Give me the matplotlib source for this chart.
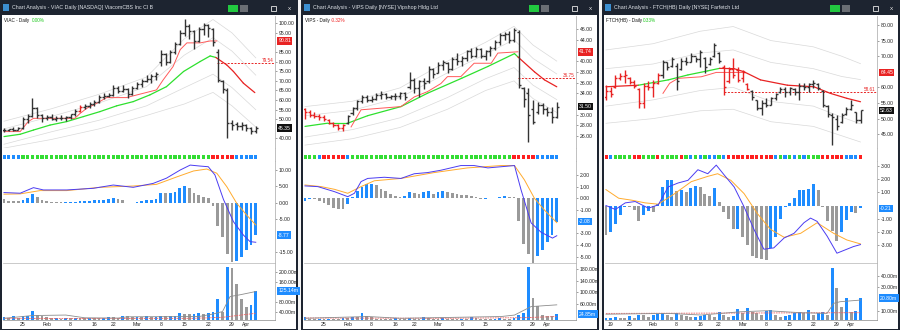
import numpy as np
import matplotlib
matplotlib.use('Agg')
import matplotlib.pyplot as plt
from matplotlib.patches import Rectangle
from matplotlib.transforms import blended_transform_factory

plt.rcParams['font.family'] = ['Liberation Sans', 'DejaVu Sans']

# ---------------- data ----------------
date_ticks = [4, 9, 14, 19, 23, 28, 33, 38, 43, 48, 51]
date_labels = ['25', 'Feb', '8', '16', '22', 'Mar', '8', '15', '22', '29', 'Apr']
ftch_date_ticks = [1, 5, 10, 15, 20, 24, 29, 34, 39, 44, 49, 52]
ftch_date_labels = ['19', '25', 'Feb', '8', '16', '22', 'Mar', '8', '15', '22', '29', 'Apr']

# VIAC
viac_open = [44.5, 44.2, 44.8, 44.5, 45.6, 50.0, 51.5, 56.0, 52.0, 50.5,
             51.0, 50.0, 50.8, 50.5, 51.0, 52.5, 54.5, 56.5, 57.0, 58.0,
             59.0, 61.5, 62.0, 62.5, 66.5, 64.5, 66.0, 63.0, 66.5, 68.5,
             70.0, 71.0, 72.5, 80.0, 84.0, 80.0, 85.0, 89.0, 95.0, 98.5,
             96.0, 91.0, 97.0, 99.0, 97.0, 85.0, 70.0, 65.5, 48.0, 47.5,
             46.5, 47.0, 45.5, 44.0]
viac_high = [45.6, 45.2, 45.8, 46.0, 51.0, 52.5, 61.3, 56.5, 53.0, 52.0,
             52.5, 51.5, 52.0, 51.8, 53.0, 55.6, 57.5, 58.0, 59.0, 60.0,
             62.5, 63.5, 63.5, 68.0, 67.5, 68.0, 66.5, 67.5, 69.5, 71.0,
             73.0, 73.5, 74.5, 86.0, 84.5, 86.0, 90.0, 96.5, 102.0, 99.5,
             96.5, 98.0, 100.3, 99.5, 97.5, 86.5, 70.5, 66.5, 49.5, 48.5,
             48.5, 47.5, 46.0, 46.5]
viac_low = [43.6, 43.8, 44.0, 44.2, 45.0, 48.0, 51.0, 50.5, 48.5, 49.5,
            49.5, 49.0, 49.5, 49.0, 50.0, 51.5, 54.0, 55.5, 56.0, 57.0,
            58.5, 60.5, 61.5, 62.0, 63.5, 64.0, 61.0, 62.5, 66.0, 67.0,
            69.5, 69.0, 70.5, 77.5, 78.5, 79.5, 84.0, 88.5, 93.5, 92.0,
            86.5, 90.5, 94.0, 93.0, 88.0, 69.5, 63.5, 40.0, 44.5, 44.5,
            44.5, 44.0, 42.6, 43.0]
viac_close = [44.2, 44.8, 44.5, 45.6, 50.0, 51.5, 56.0, 52.0, 50.5, 51.0,
              50.0, 50.8, 50.5, 51.0, 52.5, 54.5, 56.5, 57.0, 58.0, 59.0,
              61.5, 62.0, 62.5, 66.5, 64.5, 66.0, 63.0, 66.5, 68.5, 70.0,
              71.0, 72.5, 73.5, 84.0, 80.0, 85.0, 89.0, 95.0, 98.5, 96.0,
              91.0, 97.0, 99.0, 97.5, 90.0, 70.5, 66.0, 48.0, 47.0, 46.5,
              47.0, 45.5, 44.0, 45.35]
viac_red_bars = [16]
viac_impulse = 'b' * 4 + 'g' * 40 + 'r' * 5 + 'b' * 5
viac_ema_x = [0, 3.4, 6.2, 9.7, 13.2, 16.7, 20.2, 23.7, 27.2, 30.7, 34.2, 37.8, 41.3, 43.4, 44.6,
              46.9, 48.3, 50.4, 52.8]
viac_ema_y = [41.0, 42.2, 44.4, 47.0, 48.8, 51.4, 54.0, 57.0, 59.2, 62.7, 67.0, 74.9, 80.1, 83.0, 82.2,
              78.3, 74.9, 68.8, 63.9]
viac_ema_green = [(0, 44.6)]
viac_stop_x = [0, 3.4, 5.1, 6.2, 14.9, 16.0, 17.4, 19.5, 21.6, 25.8, 27.2, 32.1, 33.5, 35.6, 37.1,
               38.5, 41.3, 43.4, 44.8]
viac_stop_y = [43.6, 43.6, 48.8, 50.5, 50.5, 53.0, 55.7, 58.3, 61.3, 61.3, 62.2, 65.3, 70.5, 77.5,
               86.3, 89.8, 89.8, 90.8, 90.8]
viac_band_x = [0, 10, 20, 30, 38, 44, 48, 53]
viac_band_u2 = [49, 55.5, 63, 72, 92, 102, 95, 82]
viac_band_u1 = [45, 51.5, 58.5, 67, 83.5, 92.5, 85.5, 73]
viac_band_l1 = [37, 43.5, 49.5, 57, 66.5, 73.5, 66.5, 55]
viac_band_l2 = [35, 39.5, 45, 52, 58, 64, 57, 46]
viac_hist = [1.0, 0.6, 0.5, 0.5, 0.8, 1.3, 2.6, 1.6, 0.8, 0.6,
             0.2, 0.1, 0.1, 0.15, 0.2, 0.3, 0.4, 0.5, 0.6, 0.7,
             0.8, 0.9, 1.0, 1.3, 1.0, 0.8, -0.1, 0.05, 0.3, 0.5,
             0.7, 0.9, 1.0, 3.0, 2.9, 3.1, 3.4, 4.6, 5.1, 4.6,
             3.0, 2.3, 1.8, 1.3, -1.0, -7.1, -10.6, -15.8, -18.2, -17.9,
             -16.5, -14.5, -12.8, -9.9]
viac_macd_x = [0, 3.4, 6.2, 8.3, 13.2, 18.8, 23.0, 27.2, 31.4, 34.2, 37.1, 39.2, 41.3, 43.0, 44.4,
               46.2, 48.3, 50.4, 51.8, 53]
viac_macd_y = [3.1, 2.9, 4.6, 3.9, 3.9, 4.4, 5.4, 4.7, 5.9, 7.5, 10.0, 11.5, 11.2, 11.0, 8.5,
               1.0, -5.8, -9.9, -11.9, -12.1]
viac_sig_x = [0, 3.4, 7.6, 13.2, 20.2, 27.2, 32.1, 36.4, 39.9, 42.7, 44.8, 46.9, 49.0, 51.1, 53]
viac_sig_y = [2.6, 2.7, 3.7, 3.7, 4.7, 5.1, 5.6, 7.9, 9.7, 10.3, 9.0, 4.9, -0.2, -3.8, -6.8]
viac_vol = [20, 16, 27, 16, 24, 27, 45, 31, 27, 22,
            16, 18, 15, 17, 16, 18, 17, 16, 18, 17,
            16, 18, 23, 20, 18, 27, 24, 20, 22, 21,
            24, 22, 23, 27, 25, 26, 27, 39, 33, 32,
            33, 36, 34, 36, 40, 92, 43, 220, 216, 153,
            93, 63, 69, 125.14]
viac_vma_x = [0, 6, 13, 17, 24, 26, 41, 44, 46, 47.6, 49.7, 53]
viac_vma_y = [16, 27, 29, 18, 17, 22, 23, 33, 43, 103, 110, 123]
viac_vma2_x = [0, 20, 40, 46, 53]
viac_vma2_y = [16, 15, 16, 20, 36]

# VIPS
vips_open = [31.0, 30.5, 30.0, 29.8, 29.5, 29.0, 28.5, 28.0, 27.5, 28.5,
             30.3, 31.2, 32.5, 33.2, 32.8, 33.0, 33.6, 33.8, 33.3, 33.4,
             33.5, 34.0, 35.2, 36.5, 35.0, 36.2, 36.2, 38.5, 37.8, 39.2,
             39.6, 38.5, 40.4, 40.0, 40.6, 41.8, 41.0, 42.3, 41.0, 41.8,
             42.4, 43.6, 44.8, 45.0, 44.0, 45.5, 35.0, 34.0, 31.0, 30.5,
             31.8, 31.0, 30.5, 29.6]
vips_high = [31.2, 30.8, 30.4, 30.2, 30.0, 29.2, 28.7, 28.2, 28.3, 30.0,
             31.5, 32.8, 33.6, 33.6, 33.5, 34.0, 34.4, 34.0, 33.7, 34.0,
             34.3, 34.2, 38.0, 36.9, 36.5, 36.8, 39.0, 38.8, 39.8, 40.3,
             39.8, 40.8, 41.5, 41.0, 42.1, 42.4, 42.7, 42.5, 42.1, 42.8,
             43.9, 45.2, 45.5, 45.6, 46.1, 45.8, 35.2, 35.0, 32.7, 32.4,
             32.1, 31.5, 31.5, 32.4]
vips_low = [29.2, 29.6, 29.4, 29.0, 28.8, 28.2, 27.7, 27.1, 27.0, 28.3,
            30.0, 30.8, 32.2, 32.4, 32.4, 32.7, 33.0, 33.0, 32.9, 32.8,
            33.0, 32.8, 34.8, 34.0, 33.2, 34.8, 36.0, 36.8, 37.7, 38.3,
            37.7, 38.3, 39.2, 39.0, 40.0, 40.5, 40.8, 40.5, 40.2, 41.0,
            42.1, 43.0, 43.9, 43.3, 43.5, 34.9, 31.5, 24.9, 28.2, 30.2,
            30.2, 29.8, 28.4, 29.3]
vips_close = [30.5, 30.0, 29.8, 29.5, 29.2, 28.5, 28.0, 27.5, 28.0, 29.8,
              31.2, 32.5, 33.2, 32.8, 33.0, 33.6, 33.8, 33.3, 33.4, 33.5,
              34.0, 33.3, 36.5, 35.0, 36.2, 36.0, 38.5, 37.5, 39.2, 39.8,
              38.5, 40.4, 40.0, 40.6, 41.8, 41.0, 42.3, 41.0, 41.8, 42.4,
              43.6, 44.8, 45.0, 44.0, 45.8, 35.6, 33.0, 30.0, 28.6, 31.8,
              31.0, 30.5, 29.5, 31.5]
vips_red_bars = list(range(0, 9))
vips_impulse = 'ggg' + 'b' + 'r' * 5 + 'b' + 'g' * 34 + 'r' * 5 + 'b' * 5
vips_ema_x = [0, 4.8, 9.0, 13.2, 20.2, 25.8, 33.0, 38.5, 44.1, 44.8, 48.3, 50.4, 53]
vips_ema_y = [27.8, 28.4, 28.4, 29.8, 31.5, 34.0, 36.8, 39.0, 41.4, 40.8, 38.0, 36.5, 35.2]
vips_ema_green = [(0, 44.5)]
vips_stop_x = [9.7, 11.8, 20.2, 23.0, 25.8, 28.6, 30.0, 32.8, 35.6, 39.2, 40.6, 44.8]
vips_stop_y = [27.7, 30.9, 31.5, 33.3, 34.3, 35.8, 37.1, 37.1, 39.6, 39.6, 41.5, 41.74]
vips_band_x = [0, 10, 20, 30, 38, 44, 48, 53]
vips_band_u2 = [31.5, 32.5, 35, 40, 43.5, 46.5, 43, 40]
vips_band_u1 = [29.8, 30.8, 33.2, 37.8, 41.3, 44, 40.5, 37.6]
vips_band_l1 = [25.8, 27.2, 29.4, 33.2, 36.7, 38.8, 35.5, 32.8]
vips_band_l2 = [24.3, 25.5, 27.6, 31, 34.5, 36.3, 33, 30.4]
vips_hist = [-0.2, -0.1, -0.1, -0.2, -0.4, -0.6, -0.8, -0.9, -0.95, -0.5,
             0.1, 0.6, 1.0, 1.2, 1.25, 1.1, 0.8, 0.6, 0.4, 0.2,
             0.15, 0.2, 0.5, 0.45, 0.4, 0.5, 0.6, 0.4, 0.5, 0.6,
             0.5, 0.45, 0.4, 0.3, 0.25, 0.2, 0.1, -0.05, -0.03, 0.0,
             0.05, 0.1, 0.2, 0.15, 0.1, -1.9, -3.9, -4.8, -5.5, -4.9,
             -4.4, -3.7, -3.1, -2.0]
vips_macd_x = [0, 2.7, 6.2, 9.0, 10.4, 11.8, 13.2, 16.7, 20.2, 23.0, 25.8, 28.6, 32.8, 35.6, 38.5,
               41.3, 44.1, 45.5, 47.6, 49.7, 52.1, 53]
vips_macd_y = [1.06, 1.0, 0.57, 0.14, 0.43, 1.43, 1.7, 1.8, 1.7, 2.1, 2.2, 2.4, 2.8, 2.8, 2.6,
               2.7, 2.8, 0.7, -2.1, -2.9, -3.4, -3.2]
vips_sig_x = [0, 3.4, 6.2, 9.0, 11.8, 14.6, 20.2, 27.2, 34.2, 41.3, 44.1, 46.2, 48.3, 50.4, 53]
vips_sig_y = [1.14, 1.0, 0.77, 0.43, 1.0, 1.5, 1.7, 2.2, 2.6, 2.8, 2.8, 1.57, 0.0, -1.0, -2.08]
vips_vol = [14, 9, 8, 9, 8, 10, 9, 8, 12, 11,
            16, 14, 30, 20, 14, 10, 9, 8, 7, 11,
            9, 8, 12, 10, 9, 16, 12, 10, 9, 12,
            10, 9, 8, 10, 9, 16, 12, 10, 9, 8,
            9, 11, 10, 9, 12, 22, 28, 185, 82, 53,
            22, 20, 19, 24.85]
vips_vma_x = [0, 13.2, 20.2, 41.3, 44.1, 47.6, 53]
vips_vma_y = [11, 17, 11, 17, 22, 51, 57]
vips_vma2_x = [0, 30, 46, 53]
vips_vma2_y = [12, 11, 13, 17]

# FTCH
ftch_open = [57.0, 59.0, 60.0, 63.0, 63.5, 63.0, 61.8, 59.5, 55.0, 60.5,
             60.0, 61.5, 64.0, 68.0, 66.8, 67.0, 66.0, 68.5, 68.2, 70.0,
             69.0, 69.5, 67.5, 70.0, 71.0, 66.5, 62.0, 66.0, 65.5, 63.0,
             61.0, 59.0, 56.0, 53.5, 55.0, 54.5, 56.5, 58.5, 59.5, 58.5,
             59.5, 58.5, 60.5, 60.0, 61.0, 61.0, 59.0, 54.0, 51.0, 50.0,
             49.0, 51.5, 53.0, 52.0, 49.5]
ftch_high = [60.8, 60.0, 64.0, 64.5, 65.6, 63.4, 62.4, 59.7, 61.3, 62.0,
             62.4, 64.5, 68.8, 68.2, 69.8, 67.7, 69.3, 69.8, 70.9, 69.8,
             72.0, 69.8, 69.8, 74.1, 71.5, 67.2, 66.6, 69.3, 66.6, 65.6,
             61.3, 59.2, 56.0, 56.0, 56.5, 57.0, 58.1, 60.2, 60.2, 60.2,
             59.7, 61.3, 61.3, 61.3, 62.4, 61.3, 59.2, 54.4, 51.7, 51.2,
             51.7, 53.8, 56.0, 52.2, 52.9]
ftch_low = [56.0, 57.0, 59.7, 62.4, 61.3, 61.0, 59.7, 53.3, 53.3, 59.2,
            57.0, 61.0, 63.0, 65.6, 66.6, 59.2, 65.6, 67.2, 68.2, 68.2,
            66.6, 64.5, 67.2, 69.8, 67.7, 57.6, 61.3, 62.9, 61.8, 61.8,
            59.2, 56.0, 52.8, 51.2, 53.8, 54.4, 56.0, 58.1, 57.0, 57.6,
            57.6, 56.0, 59.2, 58.6, 59.7, 59.2, 53.8, 50.6, 41.6, 46.3,
            48.5, 51.2, 52.8, 48.5, 48.5]
ftch_close = [59.0, 58.0, 63.0, 63.5, 64.0, 61.8, 60.5, 55.0, 60.5, 60.0,
              61.5, 64.0, 68.0, 66.5, 69.0, 62.0, 68.5, 68.0, 70.0, 69.0,
              71.5, 66.5, 69.0, 73.5, 68.5, 60.0, 66.0, 64.0, 62.5, 64.8,
              59.5, 57.0, 53.5, 55.0, 54.5, 56.5, 57.8, 59.5, 58.5, 59.8,
              58.5, 60.5, 60.0, 61.0, 61.5, 59.8, 54.5, 51.5, 50.5, 47.5,
              51.0, 53.0, 54.5, 49.5, 52.63]
ftch_red_bars = list(range(0, 12)) + list(range(25, 31))
ftch_impulse = 'rbggggrrgggrggggrgbgbgbbgbrrrrrrrrrrbgbgbgbgggrrrrrbbbr'
ftch_ema_x = [0, 6.9, 13.2, 17.4, 21.6, 24.1, 27.2, 29.3, 32.8, 38.5, 44.1, 47.6, 51.1, 54]
ftch_ema_y = [60.2, 60.7, 62.4, 64.0, 65.3, 66.1, 66.0, 65.0, 62.4, 60.7, 60.2, 58.1, 56.5, 55.4]
ftch_ema_green = [(6.9, 24.1)]
ftch_stop_x = [12.1, 13.5, 15.3, 20.2, 21.6, 23.4, 29.3]
ftch_stop_y = [58.1, 61.3, 62.9, 63.4, 64.0, 64.8, 64.8]
ftch_band_x = [0, 10, 20, 27, 35, 44, 50, 54]
ftch_band_u2 = [72, 74, 78, 79.5, 75, 73, 70, 67.6]
ftch_band_u1 = [66, 67.5, 71, 72, 68, 66, 63.5, 62.5]
ftch_band_l1 = [54, 56, 59, 60, 55.5, 54, 50.5, 48.3]
ftch_band_l2 = [48.5, 50, 52.5, 53, 49, 47.5, 44.5, 42.5]
ftch_hist = [-2.2, -2.0, -1.4, -0.7, -0.1, -0.15, -0.35, -1.2, -0.7, -0.4,
             -0.5, 0.1, 1.4, 1.9, 1.95, 1.1, 1.2, 1.0, 1.3, 1.5,
             1.4, 0.9, 0.7, 1.3, 0.3, -0.5, -1.0, -1.8, -1.75, -2.4,
             -3.0, -3.8, -4.0, -4.05, -4.1, -3.2, -2.4, -1.0, -0.1, 0.2,
             0.6, 1.15, 1.2, 1.25, 1.6, 1.2, -0.1, -1.2, -1.9, -2.7,
             -2.0, -1.1, -0.5, -0.6, -0.21]
ftch_macd_x = [0, 2.0, 4.1, 6.2, 9.0, 11.1, 13.2, 15.3, 17.4, 19.5, 21.6, 23.4, 25.1, 27.2, 29.3,
               31.4, 33.5, 35.6, 37.8, 39.9, 42.0, 43.4, 44.8, 46.9, 49.0, 51.1, 52.5, 54]
ftch_macd_y = [0.0, -0.3, 0.2, 0.3, -0.2, 0.05, 1.4, 1.7, 1.9, 2.7, 2.4, 3.05, 2.3, 1.4, -0.1,
               -1.8, -3.3, -3.2, -2.45, -2.1, -1.3, -0.95, -1.2, -2.3, -3.6, -3.3, -3.1, -2.95]
ftch_sig_x = [0, 2.7, 5.5, 8.3, 11.1, 14.6, 18.1, 21.6, 23.7, 26.5, 29.3, 32.1, 34.9, 37.8, 41.3,
              44.8, 48.3, 51.1, 54]
ftch_sig_y = [1.2, 0.55, 0.4, 0.2, 0.1, 0.9, 1.8, 2.2, 2.4, 1.9, 0.9, -0.6, -1.8, -2.4, -2.1,
              -1.3, -2.1, -2.6, -2.9]
ftch_vol = [3.4, 3.5, 5.0, 4.0, 4.0, 5.4, 4.0, 6.3, 6.3, 5.0,
            6.6, 7.1, 7.7, 6.3, 5.0, 7.7, 6.3, 5.4, 4.5, 5.0,
            5.1, 6.3, 6.3, 5.0, 8.6, 6.3, 5.0, 5.7, 11.1, 7.7,
            12.0, 8.6, 7.7, 6.3, 9.7, 10.6, 6.3, 5.0, 5.7, 6.3,
            7.7, 8.6, 7.7, 10.6, 6.3, 7.7, 8.6, 6.3, 46.3, 29.0,
            13.4, 20.6, 8.6, 10.0, 20.8]
ftch_vma_x = [0, 13.2, 20.2, 28.6, 34.2, 41.3, 46.9, 48.3, 49.7, 54]
ftch_vma_y = [7.0, 7.7, 6.3, 9.1, 10.0, 8.3, 7.7, 16.3, 17.7, 19.1]
ftch_vma2_x = [0, 54]
ftch_vma2_y = [7.7, 8.3]

# ---------------- drawing ----------------
W, H = 900, 330
fig = plt.figure(figsize=(9, 3.3), dpi=100)
fig.patch.set_facecolor('#f4f4f4')

BLUE = '#1e8cff'
GRAY = '#9a9a9a'
DARK = '#333333'
RED = '#e82323'
GREEN = '#2ee02e'
SQ = {'b': '#1e8cff', 'g': '#33dd33', 'r': '#ff2020'}


def frac(x0, y0, x1, y1):
    return [x0 / W, 1 - y1 / H, (x1 - x0) / W, (y1 - y0) / H]


def fig_rect(x0, y0, x1, y1, fc, ec='none', lw=0, z=-5):
    fig.add_artist(Rectangle((x0 / W, 1 - y1 / H), (x1 - x0) / W, (y1 - y0) / H,
                             transform=fig.transFigure, facecolor=fc, edgecolor=ec,
                             linewidth=lw, zorder=z))


def fig_txt(x, y, s, **kw):
    fig.text(x / W, 1 - y / H, s, **kw)


def up_colors(vals, first):
    cols = [first]
    for i in range(1, len(vals)):
        cols.append(BLUE if vals[i] > vals[i - 1] else GRAY)
    return cols


def style_axis(ax, xl):
    ax.set_xlim(*xl)
    ax.set_facecolor('white')
    for s in ['top', 'left']:
        ax.spines[s].set_visible(False)
    ax.spines['right'].set_color('#b5b5b5')
    ax.spines['right'].set_linewidth(0.6)
    ax.spines['bottom'].set_color('#d5d5d5')
    ax.spines['bottom'].set_linewidth(0.5)
    ax.yaxis.tick_right()
    ax.tick_params(axis='y', labelsize=3.7, length=1.5, width=0.4, pad=1.2,
                   colors='#555555', labelcolor='#222222')
    ax.tick_params(axis='x', length=0, labelbottom=False)


def value_box(ax, y, s, fc):
    tr = blended_transform_factory(ax.transAxes, ax.transData)
    ax.text(1.012, y, s, transform=tr, fontsize=3.7, color='white', va='center', ha='left',
            clip_on=False, zorder=10,
            bbox=dict(boxstyle='square,pad=0.25', fc=fc, ec='none'))


def draw_panel(ox, p):
    n = len(p['close'])
    x = np.arange(n)
    xl = p['xlim']

    # window frame
    fig_rect(ox, 0, ox + 298, 330, 'white', z=-6)
    fig_rect(ox, 0, ox + 298, 15, '#1d2430', z=-4)
    fig_rect(ox, 15, ox + 2, 330, '#1d2430', z=-4)
    fig_rect(ox + 296, 15, ox + 298, 330, '#1d2430', z=-4)
    fig_rect(ox, 328.5, ox + 298, 330, '#1d2430', z=-4)
    fig_rect(ox + 3, 4, ox + 9, 11, '#3c8fd0', z=-3)
    fig_txt(ox + 12, 7.8, p['title'], fontsize=3.8, color='#dfe3e8', va='center', ha='left')
    fig_rect(ox + 228, 5.5, ox + 238, 11.5, '#22c840', z=-3)
    fig_rect(ox + 240, 5.5, ox + 248, 11.5, '#6a6e74', z=-3)
    fig_rect(ox + 256, 9.5, ox + 261, 10.3, '#e6e6e6', z=-3)
    fig_rect(ox + 271, 5.5, ox + 276, 10.5, 'none', ec='#e6e6e6', lw=0.6, z=-3)
    fig_txt(ox + 289, 8, 'x', fontsize=4.5, color='#e6e6e6', va='center', ha='center')

    ax_p = fig.add_axes(frac(ox + 3, 16, ox + 275, 148))
    ax_s = fig.add_axes(frac(ox + 3, 148, ox + 275, 161))
    ax_m = fig.add_axes(frac(ox + 3, 161, ox + 275, 263))
    ax_v = fig.add_axes(frac(ox + 3, 263, ox + 275, 320))
    for ax in (ax_p, ax_s, ax_m, ax_v):
        style_axis(ax, xl)

    # price panel
    ax_p.set_ylim(*p['pylim'])
    for yb in (p['band_u2'], p['band_u1'], p['band_l1'], p['band_l2']):
        ax_p.plot(p['band_x'], yb, color='#d9d9d9', lw=0.5, zorder=1)
    ex, ey = np.array(p['ema_x']), np.array(p['ema_y'])
    for k in range(len(ex) - 1):
        mid = (ex[k] + ex[k + 1]) / 2
        is_green = any(a <= mid <= b for a, b in p['ema_green'])
        ax_p.plot(ex[k:k + 2], ey[k:k + 2], color=GREEN if is_green else RED, lw=0.9,
                  zorder=2, solid_capstyle='round')
    ax_p.plot(p['stop_x'], p['stop_y'], color='#ff5a5a', lw=0.7, zorder=2)
    ax_p.hlines(p['dash_y'], p['dash_x'], xl[1], colors=RED, lw=0.7, linestyles=(0, (2, 1.5)),
                zorder=2)
    ax_p.text(0.995, p['dash_y'], p['dash_lbl'], transform=blended_transform_factory(ax_p.transAxes, ax_p.transData),
              fontsize=3.3, color=RED, ha='right', va='bottom')
    cols = [RED if i in p['red_bars'] else DARK for i in range(n)]
    ax_p.vlines(x, p['low'], p['high'], colors=cols, lw=1.0, zorder=3)
    ax_p.hlines(p['open'], x - 0.45, x, colors=cols, lw=1.0, zorder=3)
    ax_p.hlines(p['close'], x, x + 0.45, colors=cols, lw=1.0, zorder=3)
    ax_p.set_yticks(p['pticks'])
    ax_p.yaxis.set_major_formatter(plt.FuncFormatter(lambda v, _: f'{v:.2f}'))
    value_box(ax_p, p['stop_y'][-1], p['stop_lbl'], RED)
    value_box(ax_p, p['close'][-1], f"{p['close'][-1]:.2f}", '#111111')
    ax_p.text(0.004, 0.985, p['sym'] + ' - Daily', transform=ax_p.transAxes, fontsize=3.3,
              color='#111111', va='top', ha='left')
    ax_p.text(p['chg_pos'], 0.985, p['chg'], transform=ax_p.transAxes, fontsize=3.3,
              color=p['chg_col'], va='top', ha='left')

    # impulse squares
    ax_s.set_ylim(0, 1)
    ax_s.set_yticks([])
    ax_s.spines['bottom'].set_visible(False)
    ax_s.scatter(x, np.full(n, 0.32), marker='s', s=6.0, linewidths=0,
                 c=[SQ[ch] for ch in p['impulse']])

    # MACD
    ax_m.set_ylim(*p['mylim'])
    ax_m.bar(x, p['hist'], width=0.62, color=up_colors(p['hist'], p['hist_first']), zorder=1)
    ax_m.plot(p['sig_x'], p['sig_y'], color='#ffab2e', lw=0.7, zorder=2)
    ax_m.plot(p['macd_x'], p['macd_y'], color='#4b3cf2', lw=0.7, zorder=3)
    ax_m.set_yticks(p['mticks'])
    ax_m.yaxis.set_major_formatter(plt.FuncFormatter(lambda v, _: f'{v:.2f}'))
    value_box(ax_m, p['hist'][-1], p['hist_lbl'], BLUE)

    # volume
    ax_v.set_ylim(*p['vylim'])
    ax_v.spines['top'].set_visible(True)
    ax_v.spines['top'].set_color('#b5b5b5')
    ax_v.spines['top'].set_linewidth(0.5)
    ax_v.spines['bottom'].set_color('#888888')
    ax_v.bar(x, p['vol'], width=0.62, color=up_colors(p['vol'], BLUE), zorder=1)
    ax_v.plot(p['vma2_x'], p['vma2_y'], color='#f06060', lw=0.6, ls=(0, (2, 1)), zorder=2)
    ax_v.plot(p['vma_x'], p['vma_y'], color='#8c8c8c', lw=0.6, zorder=3)
    ax_v.set_yticks(p['vticks'])
    ax_v.yaxis.set_major_formatter(plt.FuncFormatter(lambda v, _: f'{v:.2f}m'))
    value_box(ax_v, p['vol'][-1], f"{p['vol'][-1]:.2f}m", BLUE)
    ax_v.set_xticks(p['dticks'])
    ax_v.set_xticklabels(p['dlabels'])
    ax_v.tick_params(axis='x', labelbottom=True, labelsize=3.7, pad=1.5, length=0,
                     labelcolor='#222222')


panels = [
    dict(title='Chart Analysis - VIAC Daily [NASDAQ] ViacomCBS Inc Cl B', sym='VIAC', chg='0.00%',
         chg_col='#1ec81e', chg_pos=0.105, open=viac_open, high=viac_high, low=viac_low,
         close=viac_close, red_bars=viac_red_bars, impulse=viac_impulse,
         ema_x=viac_ema_x, ema_y=viac_ema_y, ema_green=viac_ema_green,
         stop_x=viac_stop_x, stop_y=viac_stop_y, stop_lbl='90.81',
         band_x=viac_band_x, band_u2=viac_band_u2, band_u1=viac_band_u1,
         band_l1=viac_band_l1, band_l2=viac_band_l2,
         dash_x=44.8, dash_y=79.54, dash_lbl='79.54',
         pylim=(35.05, 103.8), pticks=[40, 50, 55, 60, 65, 70, 75, 80, 85, 95, 100],
         hist=viac_hist, hist_first=GRAY, hist_lbl='-8.77', macd_x=viac_macd_x, macd_y=viac_macd_y,
         sig_x=viac_sig_x, sig_y=viac_sig_y, mylim=(-18.44, 12.75), mticks=[-15, -5, 0, 5, 10],
         vol=viac_vol, vma_x=viac_vma_x, vma_y=viac_vma_y, vma2_x=viac_vma2_x, vma2_y=viac_vma2_y,
         vylim=(9.2, 237), vticks=[40, 80, 160, 200],
         dticks=date_ticks, dlabels=date_labels, xlim=(-0.21, 57.05)),
    dict(title='Chart Analysis - VIPS Daily [NYSE] Vipshop Hldg Ltd', sym='VIPS', chg='-0.32%',
         chg_col='#ee2020', chg_pos=0.097, open=vips_open, high=vips_high, low=vips_low,
         close=vips_close, red_bars=vips_red_bars, impulse=vips_impulse,
         ema_x=vips_ema_x, ema_y=vips_ema_y, ema_green=vips_ema_green,
         stop_x=vips_stop_x, stop_y=vips_stop_y, stop_lbl='41.74',
         band_x=vips_band_x, band_u2=vips_band_u2, band_u1=vips_band_u1,
         band_l1=vips_band_l1, band_l2=vips_band_l2,
         dash_x=44.8, dash_y=36.75, dash_lbl='36.75',
         pylim=(23.76, 48.43), pticks=[26, 28, 30, 34, 36, 38, 40, 44, 46],
         hist=vips_hist, hist_first=BLUE, hist_lbl='-2.08', macd_x=vips_macd_x, macd_y=vips_macd_y,
         sig_x=vips_sig_x, sig_y=vips_sig_y, mylim=(-5.53, 3.19), mticks=[-5, -4, -3, -1, 0, 1, 2],
         vol=vips_vol, vma_x=vips_vma_x, vma_y=vips_vma_y, vma2_x=vips_vma2_x, vma2_y=vips_vma2_y,
         vylim=(5.1, 200.3), vticks=[60, 100, 140, 180],
         dticks=date_ticks, dlabels=date_labels, xlim=(-0.21, 57.05)),
    dict(title='Chart Analysis - FTCH(HB) Daily [NYSE] Farfetch Ltd', sym='FTCH(HB)', chg='0.33%',
         chg_col='#1ec81e', chg_pos=0.14, open=ftch_open, high=ftch_high, low=ftch_low,
         close=ftch_close, red_bars=ftch_red_bars, impulse=ftch_impulse,
         ema_x=ftch_ema_x, ema_y=ftch_ema_y, ema_green=ftch_ema_green,
         stop_x=ftch_stop_x, stop_y=ftch_stop_y, stop_lbl='64.45',
         band_x=ftch_band_x, band_u2=ftch_band_u2, band_u1=ftch_band_u1,
         band_l1=ftch_band_l1, band_l2=ftch_band_l2,
         dash_x=25.1, dash_y=58.61, dash_lbl='58.61',
         pylim=(40.58, 82.88), pticks=[45, 50, 55, 60, 70, 75, 80],
         hist=ftch_hist, hist_first=GRAY, hist_lbl='-0.21', macd_x=ftch_macd_x, macd_y=ftch_macd_y,
         sig_x=ftch_sig_x, sig_y=ftch_sig_y, mylim=(-4.34, 3.36), mticks=[-3, -2, -1, 1, 2, 3],
         vol=ftch_vol, vma_x=ftch_vma_x, vma_y=ftch_vma_y, vma2_x=ftch_vma2_x, vma2_y=ftch_vma2_y,
         vylim=(2.05, 50.8), vticks=[10, 30, 40],
         dticks=ftch_date_ticks, dlabels=ftch_date_labels, xlim=(-0.2, 57.5)),
]

for k, pan in enumerate(panels):
    draw_panel(k * 301, pan)

fig.savefig('out.png', dpi=100)
